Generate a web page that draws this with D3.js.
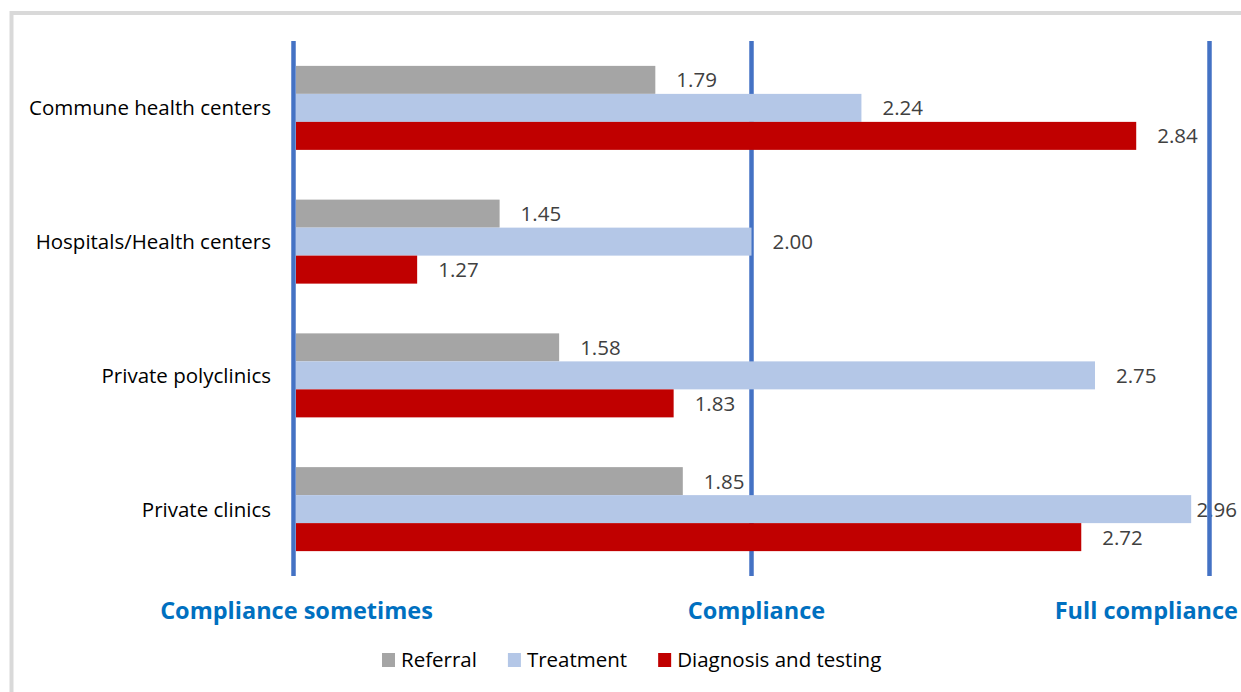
<!DOCTYPE html>
<html>
<head>
<meta charset="utf-8">
<script src="https://cdn.jsdelivr.net/npm/d3@7"></script>
<style>
  html, body { margin: 0; padding: 0; background: #fff; }
  svg { display: block; }
</style>
</head>
<body>
<svg id="chart" width="1241" height="692"></svg>
<script>
const categories = ["Commune health centers", "Hospitals/Health centers", "Private polyclinics", "Private clinics"];
const seriesNames = ["Referral", "Treatment", "Diagnosis and testing"];
const referral = [1.79, 1.45, 1.58, 1.85];
const treatment = [2.24, 2.00, 2.75, 2.96];
const diagnosis = [2.84, 1.27, 1.83, 2.72];
const tickValues = [1, 2, 3];
const tickLabels = ["Compliance sometimes", "Compliance", "Full compliance"];
const colors = ["#A5A5A5", "#B4C7E7", "#C00000"];

const seriesValues = [referral, treatment, diagnosis];
const W = 1241, H = 692;
const svg = d3.select("#chart");
const FONT = "'Open Sans', sans-serif";
const FS = 20.5;

// outer frame
svg.append("rect").attr("x", 11.5).attr("y", 13).attr("width", 1400).attr("height", 900)
  .attr("fill", "none").attr("stroke", "#D9D9D9").attr("stroke-width", 4);

const x = d3.scaleLinear().domain([1, 3]).range([293.5, 1209.5]);
const y = d3.scaleBand().domain(categories).range([41, 576]).paddingInner(0).paddingOuter(0);
const groupH = 84;
const yInner = d3.scaleBand().domain(seriesNames)
  .range([(y.bandwidth() - groupH) / 2, (y.bandwidth() + groupH) / 2]).padding(0);

const data = [];
categories.forEach((c, i) => {
  seriesNames.forEach((s, j) => data.push({ cat: c, series: s, value: seriesValues[j][i], color: colors[j] }));
});

// value labels (drawn first so the reference lines sit over them)
const labelRight = 1237;
const lbl = svg.append("g").selectAll("text").data(data).join("text")
  .attr("y", d => y(d.cat) + yInner(d.series) + yInner.bandwidth() / 2)
  .attr("dy", "0.36em")
  .attr("font-family", FONT).attr("font-size", FS).attr("fill", "#404040")
  .text(d => d.value.toFixed(2));
lbl.each(function(d) {
  const w = this.getComputedTextLength();
  const xs = Math.min(x(d.value) + 21, labelRight - w);
  d3.select(this).attr("x", xs);
});

// vertical reference lines
svg.append("g").selectAll("line").data(tickValues).join("line")
  .attr("x1", d => x(d)).attr("x2", d => x(d))
  .attr("y1", 41).attr("y2", 576)
  .attr("stroke", "#4472C4").attr("stroke-width", 4.5);

// bars
svg.append("g").selectAll("rect").data(data).join("rect")
  .attr("x", x(1) + 2.5)
  .attr("y", d => y(d.cat) + yInner(d.series))
  .attr("width", d => x(d.value) - x(1) - 2.5)
  .attr("height", yInner.bandwidth())
  .attr("fill", d => d.color);

// category labels
svg.append("g").selectAll("text").data(categories).join("text")
  .attr("x", 271)
  .attr("y", d => y(d) + y.bandwidth() / 2)
  .attr("dy", "0.36em")
  .attr("text-anchor", "end")
  .attr("font-family", FONT).attr("font-size", FS).attr("fill", "#000")
  .text(d => d);

// axis labels
const axLbl = svg.append("g").selectAll("text").data(tickValues).join("text")
  .attr("y", 619)
  .attr("font-family", FONT).attr("font-size", 23.5).attr("font-weight", "bold").attr("fill", "#0070C0")
  .text((d, i) => tickLabels[i]);
axLbl.each(function(d, i) {
  const w = this.getComputedTextLength();
  let cx = x(d) + (i === 0 ? 3 : 5);
  let xs = Math.min(cx - w / 2, 1238 - w);
  d3.select(this).attr("x", xs);
});

// legend
const legendY = 660;
const legend = svg.append("g");
const items = legend.selectAll("g").data(seriesNames).join("g");
items.append("rect").attr("x", 0).attr("y", legendY - 7).attr("width", 13).attr("height", 14)
  .attr("fill", (d, i) => colors[i]);
items.append("text").attr("x", 19).attr("y", legendY).attr("dy", "0.36em")
  .attr("font-family", FONT).attr("font-size", FS).attr("fill", "#000")
  .text(d => d);
const widths = [];
items.each(function() { widths.push(this.getBBox().width); });
const gap = 31;
let start = 382;
items.each(function(d, i) {
  d3.select(this).attr("transform", `translate(${start},0)`);
  start += widths[i] + gap;
});
</script>
</body>
</html>
